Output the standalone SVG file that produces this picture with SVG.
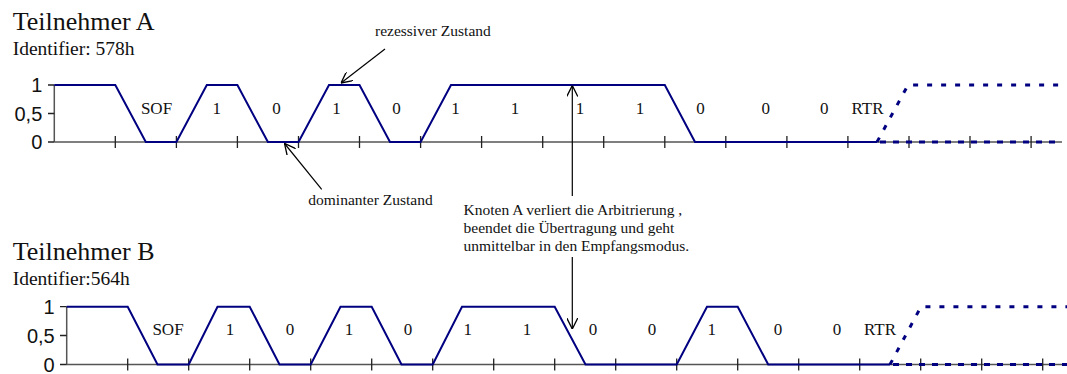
<svg xmlns="http://www.w3.org/2000/svg" width="1067" height="374" viewBox="0 0 1067 374">
<defs>
<style>
.title{font-family:"Liberation Serif","Times New Roman",serif;font-size:26px;fill:#111}
.ident{font-family:"Liberation Serif","Times New Roman",serif;font-size:19.5px;fill:#111}
.bit{font-family:"Liberation Serif","Times New Roman",serif;font-size:17px;fill:#111;text-anchor:middle}
.note{font-family:"Liberation Serif","Times New Roman",serif;font-size:15.5px;fill:#111}
.ylab{font-family:"Liberation Sans",Arial,sans-serif;font-size:20px;fill:#111;text-anchor:end}
.axis{stroke:#555;stroke-width:1.5;fill:none}
.tick{stroke:#222;stroke-width:1.3;fill:none}
.wave{stroke:#000080;stroke-width:2;fill:none;stroke-linejoin:miter}
.dash{stroke:#000080;stroke-width:3;fill:none;stroke-dasharray:5 9}
.dash2{stroke:#000080;stroke-width:3;fill:none;stroke-dasharray:6 7}
.arrow{stroke:#000;stroke-width:1.2;fill:none;marker-end:url(#open)}
</style>
<marker id="open" viewBox="0 0 10 10" refX="10" refY="5" markerWidth="11" markerHeight="11" markerUnits="userSpaceOnUse" orient="auto">
<path d="M0,0 L10,5 L0,10" fill="none" stroke="#000" stroke-width="1.2"/>
</marker>
</defs>
<rect width="1067" height="374" fill="#fff"/>

<g id="teilnehmerA">
<text class="title" x="12.7" y="30">Teilnehmer A</text>
<text class="ident" x="12.7" y="55">Identifier: 578h</text>
<text class="ylab" x="42.3" y="92">1</text>
<text class="ylab" x="42.3" y="120.5">0,5</text>
<text class="ylab" x="42.3" y="149">0</text>
<path class="axis" d="M54.3,142 H1062 M54.3,85 V142"/>
<path class="tick" d="M48,85 H54.3 M48,113.5 H54.3 M48,142 H54.3
M115.3,136 V148 M176.4,136 V148 M237.4,136 V148 M298.5,136 V148 M359.5,136 V148 M420.6,136 V148 M481.6,136 V148 M542.7,136 V148 M603.7,136 V148 M664.8,136 V148 M725.8,136 V148 M786.9,136 V148 M847.9,136 V148 M909,136 V148 M970,136 V148 M1031.1,136 V148"/>
<path class="wave" d="M54.3,85 H115.3 L145.8,142 H176.4 L206.8,85 H237.4 L267.9,142 H298.5 L329,85 H359.5 L390,142 H420.6 L451,85 H664.8 L695,142 H877"/>
<path class="dash" d="M877,142 L908,85 H1062"/>
<path class="dash2" d="M880,142 H1062"/>
<text class="bit" x="156.5" y="113.5">SOF</text>
<text class="bit" x="216.7" y="113.5">1</text>
<text class="bit" x="276.5" y="113.5">0</text>
<text class="bit" x="336.5" y="113.5">1</text>
<text class="bit" x="396.5" y="113.5">0</text>
<text class="bit" x="455.5" y="113.5">1</text>
<text class="bit" x="515" y="113.5">1</text>
<text class="bit" x="580" y="113.5">1</text>
<text class="bit" x="640" y="113.5">1</text>
<text class="bit" x="700.5" y="113.5">0</text>
<text class="bit" x="765.7" y="113.5">0</text>
<text class="bit" x="824.3" y="113.5">0</text>
<text class="bit" x="867.5" y="113.5">RTR</text>
</g>

<g id="teilnehmerB">
<text class="title" x="12.7" y="260">Teilnehmer B</text>
<text class="ident" x="12.7" y="285">Identifier:564h</text>
<text class="ylab" x="54.7" y="313.7">1</text>
<text class="ylab" x="54.7" y="342.5">0,5</text>
<text class="ylab" x="54.7" y="371.5">0</text>
<path class="axis" d="M66.7,364.5 H1067 M66.7,306.7 V364.5"/>
<path class="tick" d="M60,306.7 H66.7 M60,335.5 H66.7 M60,364.5 H66.7
M127.7,358.5 V370.5 M188.7,358.5 V370.5 M249.7,358.5 V370.5 M310.7,358.5 V370.5 M371.7,358.5 V370.5 M432.7,358.5 V370.5 M493.7,358.5 V370.5 M554.7,358.5 V370.5 M615.7,358.5 V370.5 M676.7,358.5 V370.5 M737.7,358.5 V370.5 M798.7,358.5 V370.5 M859.7,358.5 V370.5 M920.7,358.5 V370.5 M981.7,358.5 V370.5 M1042.7,358.5 V370.5"/>
<path class="wave" d="M66.7,306.7 H127.7 L157.5,364.5 H188.7 L217.5,306.7 H249.7 L279.5,364.5 H310.7 L340.5,306.7 H371.7 L401.5,364.5 H432.7 L462,306.7 H554.7 L585.5,364.5 H676.7 L707,306.7 H737.7 L768.2,364.5 H890"/>
<path class="dash" d="M890,364.5 L921,306.7 H1067"/>
<path class="dash2" d="M893,364.5 H1067"/>
<text class="bit" x="168" y="334.5">SOF</text>
<text class="bit" x="230" y="334.5">1</text>
<text class="bit" x="290" y="334.5">0</text>
<text class="bit" x="349" y="334.5">1</text>
<text class="bit" x="408" y="334.5">0</text>
<text class="bit" x="467.7" y="334.5">1</text>
<text class="bit" x="527" y="334.5">1</text>
<text class="bit" x="593" y="334.5">0</text>
<text class="bit" x="652" y="334.5">0</text>
<text class="bit" x="711.7" y="334.5">1</text>
<text class="bit" x="778" y="334.5">0</text>
<text class="bit" x="837" y="334.5">0</text>
<text class="bit" x="880" y="334.5">RTR</text>
</g>

<g id="annotations">
<text class="note" x="375" y="35.5">rezessiver Zustand</text>
<text class="note" x="308.3" y="205">dominanter Zustand</text>
<text class="note" x="463.5" y="214.5">Knoten A verliert die Arbitrierung ,</text>
<text class="note" x="463.5" y="232.5">beendet die Übertragung und geht</text>
<text class="note" x="463.5" y="250.5">unmittelbar in den Empfangsmodus.</text>
</g>

<g id="connectors">
<line class="arrow" x1="385" y1="49" x2="341" y2="83"/>
<line class="arrow" x1="321.7" y1="189.3" x2="284.5" y2="143.5"/>
<line class="arrow" x1="572.3" y1="196" x2="572.3" y2="85.5"/>
<line class="arrow" x1="572.3" y1="257" x2="572.3" y2="329"/>
</g>
</svg>
